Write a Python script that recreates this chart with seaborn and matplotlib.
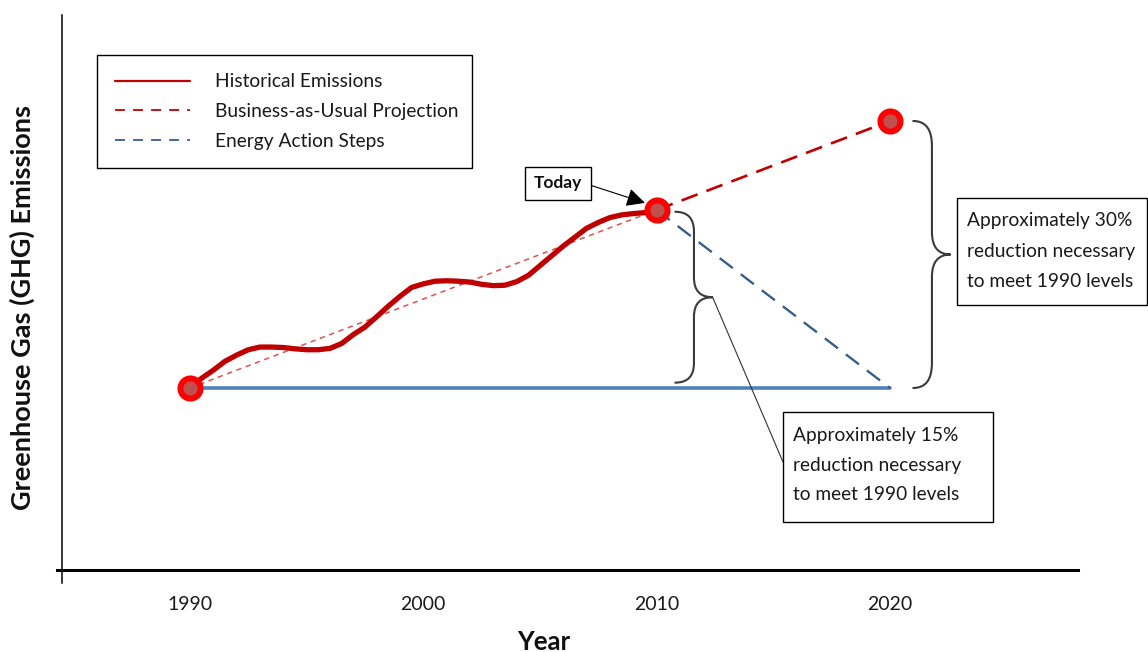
import matplotlib
matplotlib.use("Agg")
import matplotlib.pyplot as plt
import matplotlib.transforms as mtransforms
from matplotlib.lines import Line2D
from matplotlib.path import Path
from matplotlib.patches import PathPatch, Rectangle
import numpy as np
import seaborn as sns

# ---- data -------------------------------------------------------------
# historical emissions sampled every half year, index 1990 = 100
hist_years = np.arange(1990.0, 2010.5, 0.5)
hist_emissions = [100.0, 101.1, 102.0, 103.0, 103.7, 104.3, 104.6, 104.6,
                  104.55, 104.4, 104.3, 104.3, 104.45, 105.0, 106.0, 106.85,
                  108.0, 109.2, 110.3, 111.3, 111.7, 112.0, 112.05, 112.0,
                  111.9, 111.65, 111.5, 111.55, 111.95, 112.65, 113.75, 114.85,
                  115.95, 116.95, 117.95, 118.6, 119.15, 119.45, 119.6, 119.7,
                  120.0]

bau_years = [1990, 2010, 2020]
bau_emissions = [100.0, 120.0, 130.0]

action_years = [2010, 2020]
action_emissions = [120.0, 100.0]

baseline_years = [1990, 2020]
baseline_emissions = [100.0, 100.0]

key_years = [1990, 2010, 2020]
key_emissions = [100.0, 120.0, 130.0]

tick_years = [1990, 2000, 2010, 2020]
legend_labels = ["Historical Emissions", "Business-as-Usual Projection",
                 "Energy Action Steps"]
today_label = "Today"
note_15 = "Approximately 15%\nreduction necessary\nto meet 1990 levels"
note_30 = "Approximately 30%\nreduction necessary\nto meet 1990 levels"

# ---- colours ------------------------------------------------------------
RED_DARK = "#c00000"
RED_THIN = "#e05050"
BLUE_SOLID = "#4f81bd"
BLUE_DASH = "#385d8a"
MARKER_FACE = "#c0504d"
MARKER_EDGE = "#ff0000"
BRACE = "#3a3a3a"
TEXT = "#1a1a1a"

sns.set_theme(style="white")
plt.rcParams["font.family"] = ["Lato", "DejaVu Sans"]

W, H = 1148, 652
fig = plt.figure(figsize=(W / 100, H / 100), dpi=100)
ax = fig.add_axes([57 / W, (H - 583) / H, (1078 - 57) / W, (583 - 15) / H])

# pixel helper (origin top-left) for the note boxes
px = mtransforms.Affine2D().scale(1 / W, -1 / H).translate(0, 1) + fig.transFigure

ax.set_xlim(1984.30, 2028.06)
ax.set_ylim(78.09, 141.91)

# ---- lines --------------------------------------------------------------
sns.lineplot(x=baseline_years, y=baseline_emissions, ax=ax, color=BLUE_SOLID,
             lw=2.6, zorder=2)
sns.lineplot(x=bau_years[:2], y=bau_emissions[:2], ax=ax, color=RED_THIN,
             lw=1.1, linestyle=(0, (3.5, 3.0)), zorder=3)
sns.lineplot(x=bau_years[1:], y=bau_emissions[1:], ax=ax, color=RED_DARK,
             lw=1.9, linestyle=(0, (6.5, 3.6)), zorder=3)
sns.lineplot(x=action_years, y=action_emissions, ax=ax, color=BLUE_DASH,
             lw=1.7, linestyle=(0, (7.0, 4.2)), zorder=3)
sns.lineplot(x=hist_years, y=hist_emissions, ax=ax, color=RED_DARK, lw=3.8,
             solid_joinstyle="round", solid_capstyle="round", zorder=4)

sns.scatterplot(x=key_years, y=key_emissions, ax=ax, s=210, color=MARKER_FACE,
                edgecolor=MARKER_EDGE, linewidth=4.3, zorder=6, legend=False)

# ---- axes styling --------------------------------------------------------
for side in ("top", "right"):
    ax.spines[side].set_visible(False)
ax.spines["left"].set_position(("data", 1984.51))
ax.spines["left"].set_color("black")
ax.spines["left"].set_linewidth(1.1)
ax.spines["bottom"].set_position(("data", 79.55))
ax.spines["bottom"].set_color("black")
ax.spines["bottom"].set_linewidth(2.2)

ax.set_xticks(tick_years)
ax.set_xticklabels([str(y) for y in tick_years])
ax.set_yticks([])
ax.tick_params(axis="x", length=0, pad=19, labelsize=14, labelcolor=TEXT)


# ---- braces ------------------------------------------------------------
def curly_brace(x0, y_bot, y_top, w, h_end, h_tip):
    ym = (y_bot + y_top) / 2
    verts = [(x0, y_top), (x0 + w, y_top), (x0 + w, y_top - h_end),
             (x0 + w, ym + h_tip), (x0 + w, ym), (x0 + 2 * w, ym),
             (x0 + w, ym), (x0 + w, ym - h_tip),
             (x0 + w, y_bot + h_end), (x0 + w, y_bot), (x0, y_bot)]
    codes = [Path.MOVETO, Path.CURVE3, Path.CURVE3, Path.LINETO,
             Path.CURVE3, Path.CURVE3, Path.CURVE3, Path.CURVE3,
             Path.LINETO, Path.CURVE3, Path.CURVE3]
    ax.add_patch(PathPatch(Path(verts, codes), fill=False, ec=BRACE, lw=1.5,
                           zorder=5, capstyle="round"))
    return (x0 + 2 * w, ym)


small_tip = curly_brace(key_years[1] + 0.8, baseline_emissions[0] + 0.6,
                        key_emissions[1] - 0.2, 0.8, 2.2, 2.2)
curly_brace(key_years[2] + 1.0, baseline_emissions[0], key_emissions[2],
            0.8, 2.8, 2.5)

# ---- legend --------------------------------------------------------------
handles = [
    Line2D([], [], color=RED_DARK, lw=1.6),
    Line2D([], [], color=RED_DARK, lw=1.3, linestyle=(0, (5.5, 4.5))),
    Line2D([], [], color=BLUE_DASH, lw=1.3, linestyle=(0, (5.5, 4.5))),
]
leg = ax.legend(handles, legend_labels, loc="upper left",
                bbox_to_anchor=(97 / W, 1 - 168 / H, 375 / W, 113 / H),
                bbox_transform=fig.transFigure, mode="expand",
                borderaxespad=0, fontsize=13.8, handlelength=3.9,
                handletextpad=1.3, labelspacing=0.66, borderpad=0.95,
                frameon=True, fancybox=False, framealpha=1)
leg.get_frame().set_edgecolor("black")
leg.get_frame().set_linewidth(1.0)
for t in leg.get_texts():
    t.set_color(TEXT)

# ---- annotations ---------------------------------------------------------
ax.annotate(today_label, xy=(2009.5, 120.8), xytext=(2005.77, 123.0),
            ha="center", va="center", fontsize=12.5, fontweight="bold",
            color="#111111",
            bbox=dict(boxstyle="square,pad=0.5", fc="white", ec="black", lw=1),
            arrowprops=dict(arrowstyle="-|>,head_length=0.9,head_width=0.45",
                            color="black", lw=0.8, relpos=(1, 0.55),
                            shrinkA=0, shrinkB=0),
            zorder=7)

# 30% note box
ax.add_patch(Rectangle((957, 198), 190, 107, transform=px, fill=True,
                       fc="white", ec="black", lw=1.0, clip_on=False, zorder=7))
fig.text(967, 251, note_30, transform=px, ha="left", va="center",
         fontsize=13.8, linespacing=1.95, color=TEXT, zorder=8)

# 15% note box with connector to the small brace
ax.add_patch(Rectangle((783, 412), 210, 110, transform=px, fill=True,
                       fc="white", ec="black", lw=1.0, clip_on=False, zorder=7))
fig.text(793, 465, note_15, transform=px, ha="left", va="center",
         fontsize=13.8, linespacing=1.86, color=TEXT, zorder=8)
ax.annotate("", xy=small_tip, xytext=(783, 462), textcoords=px,
            arrowprops=dict(arrowstyle="-", color="#333333", lw=0.8,
                            shrinkA=0, shrinkB=0), zorder=6)

# ---- axis titles ----------------------------------------------------------
ax.set_xlabel("Year", fontsize=18.5, fontweight="bold", color="#111111",
              visible=True)
ax.xaxis.set_label_coords((544 - 57) / (1078 - 57), -0.083)
ax.set_ylabel("Greenhouse Gas (GHG) Emissions", fontsize=19.5,
              fontweight="bold", color="#111111", visible=True)
ax.yaxis.set_label_coords(-0.0215, (583 - 307) / (583 - 15))

fig.savefig("out.png", dpi=100)
